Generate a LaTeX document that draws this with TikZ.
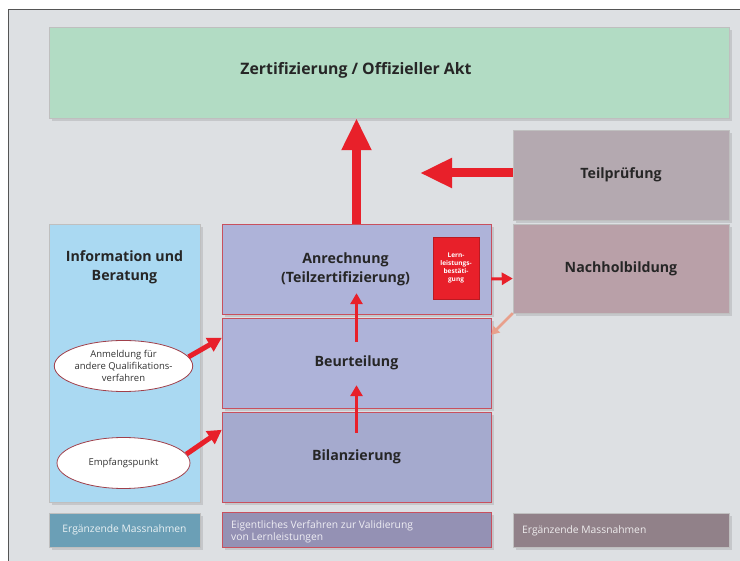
\documentclass[tikz,border=0pt]{standalone}
\usepackage{fontspec}
\setmainfont{Open Sans}
\usetikzlibrary{arrows.meta,shapes.geometric,shadows}

\definecolor{hgrund}{HTML}{DDE0E3}
\definecolor{rahmen}{HTML}{555555}
\definecolor{gruen}{HTML}{B2DCC4}
\definecolor{hblau}{HTML}{AAD9F2}
\definecolor{lila}{HTML}{AEB3D9}
\definecolor{teilgrau}{HTML}{B4A9B0}
\definecolor{nachrosa}{HTML}{B9A0A8}
\definecolor{fusslinks}{HTML}{6B9FB6}
\definecolor{fussmitte}{HTML}{9491B4}
\definecolor{fussrechts}{HTML}{918189}
\definecolor{rot}{HTML}{E8202A}
\definecolor{randrot}{HTML}{C8505E}
\definecolor{lachs}{HTML}{E8A08C}

\tikzset{
  box/.style={rectangle, inner sep=0pt, draw=black!25,
    drop shadow={opacity=0.25, shadow xshift=3pt, shadow yshift=-3pt}},
  stufe/.style={box, fill=lila, draw=randrot, minimum width=269pt, minimum height=90pt},
  titel/.style={font=\bfseries\fontsize{14.2}{19}\selectfont, align=center, text=black!85},
  klein/.style={font=\fontsize{9.5}{12}\selectfont, align=center, text=black!80},
  fuss/.style={font=\fontsize{10.3}{12}\selectfont, align=left},
  blase/.style={ellipse, fill=white, draw=randrot!80!black, thick,
    minimum width=133pt, minimum height=51pt, inner sep=0pt},
  grosspfeil/.style={draw=rot, line width=9pt, -{Triangle[length=32pt,width=28pt]}},
  mittelpfeil/.style={draw=rot, line width=5pt, -{Triangle[length=14pt,width=15pt]}},
  kleinpfeil/.style={draw=rot, line width=3.5pt, -{Triangle[length=11pt,width=12pt]}}
}

\begin{document}
\begin{tikzpicture}[x=1pt,y=-1pt]
  \useasboundingbox (0,0) rectangle (740,561);
  % Hintergrund und Rahmen
  \fill[hgrund] (8,10) rectangle (740,561);
  \draw[rahmen, line width=1pt] (8,561) -- (8,10) -- (740,10);

  % obere Ebene
  \node[box, fill=gruen, minimum width=680pt, minimum height=91pt,
    label={[titel, font=\bfseries\fontsize{15.8}{19}\selectfont, xshift=-33pt, yshift=2pt]center:Zertifizierung / Offizieller Akt}] (zert) at (389,72.5) {};

  % rechte Spalte
  \node[box, fill=teilgrau, minimum width=216pt, minimum height=90pt, titel] (teil) at (621,175) {Teilprüfung};
  \node[box, fill=nachrosa, minimum width=216pt, minimum height=89pt, titel] (nach) at (621,268.5) {Nachholbildung};

  % linke Spalte
  \node[box, fill=hblau, minimum width=151pt, minimum height=278pt,
    label={[titel, yshift=96pt]center:Information und\\Beratung}] (info) at (124.5,363) {};
  \node[blase, klein] (anm) at (123.5,366) {Anmeldung für\\andere Qualifikations-\\verfahren};
  \node[blase, klein] (empf) at (123.5,463) {Empfangspunkt};

  % Verfahren (Mitte)
  \node[stufe, label={[titel, xshift=-11pt]center:Anrechnung\\(Teilzertifizierung)}] (anr) at (356.5,269) {};
  \node[stufe, titel] (beur) at (356.5,363) {Beurteilung};
  \node[stufe, titel, fill=lila!95!black] (bil) at (356.5,457) {Bilanzierung};
  \node[rectangle, fill=rot, draw=rot!80!black, minimum width=46pt, minimum height=62pt, inner sep=0pt,
    text=white, font=\bfseries\fontsize{6.5}{8}\selectfont, align=center] (lern) at (456,268)
    {Lern-\\leistungs-\\bestäti-\\gung};

  % Fusszeile
  \node[box, fill=fusslinks, minimum width=151pt, minimum height=34pt, fuss, text=white!85!fusslinks]
    (fussL) at (124.5,530) {Ergänzende Massnahmen};
  \node[box, fill=fussmitte, draw=randrot, minimum width=269pt, minimum height=35pt]
    (fussM) at (356.5,530) {};
  \node[fuss, text=white!85!fussmitte, anchor=west, inner sep=0pt] (fussMtxt) at (231,532)
    {Eigentliches Verfahren zur Validierung\\von Lernleistungen};
  \node[box, fill=fussrechts, minimum width=216pt, minimum height=34pt] (fussR) at (621,530) {};
  \node[fuss, text=white!85!fussrechts, anchor=west, inner sep=0pt] (fussRtxt) at (522,531) {Ergänzende Massnahmen};

  % Pfeile
  \coordinate (teilziel) at (420,173);
  \draw[grosspfeil] (anr.north) -- (anr.north |- zert.south);
  \draw[grosspfeil] ([yshift=2pt]teil.west) -- (teilziel);
  \draw[kleinpfeil] ([yshift=-24pt]beur.north) -- ([yshift=21pt]anr.south);
  \draw[kleinpfeil] ([yshift=-21pt]bil.north) -- ([yshift=23pt]beur.south);
  \draw[mittelpfeil] (anm.8) -- ([yshift=-20pt]beur.north west);
  \draw[mittelpfeil] (empf.8) -- ([yshift=-18pt]bil.north west);
  \draw[kleinpfeil, line width=3pt] ([yshift=-10pt]anr.east) -- ([yshift=-10pt]nach.west);
  \draw[draw=lachs, line width=2.5pt, -{Triangle[length=8pt,width=9pt]}] (nach.south west) -- ([yshift=-17pt]beur.north east);
\end{tikzpicture}
\end{document}
